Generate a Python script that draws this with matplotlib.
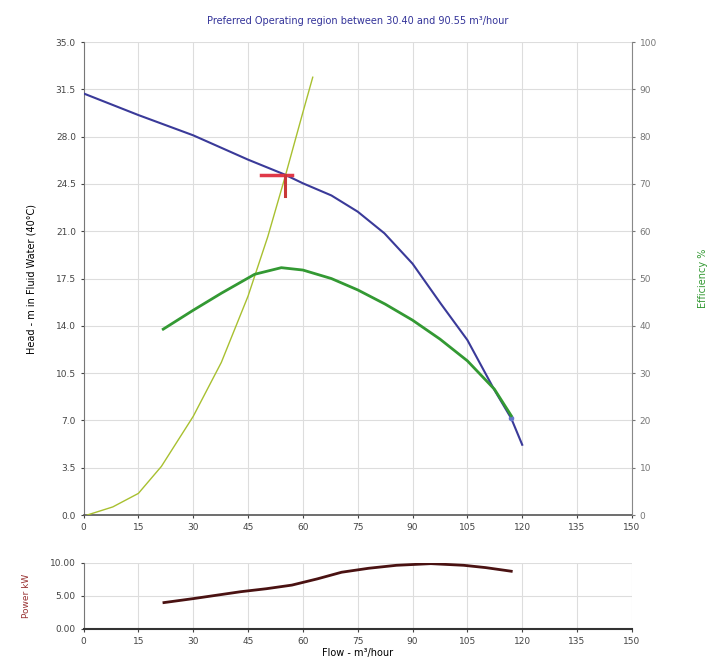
import numpy as np
import matplotlib.pyplot as plt

# pump curve data
head_flow = [0, 15, 30, 45, 55, 60, 67.8, 75, 82.3, 90, 97.7, 105, 112.4, 117, 120]
head_m = [31.2, 29.6, 28.1, 26.3, 25.2, 24.55, 23.65, 22.45, 20.85, 18.6, 15.65,
          12.95, 9.25, 7.15, 5.2]

eff_flow = [21.8, 30, 37.7, 46.8, 54.1, 60, 67.8, 75, 82.5, 90, 97.5, 105, 112.4, 117]
eff_pct = [39.3, 43.3, 46.9, 50.9, 52.3, 51.8, 50.0, 47.6, 44.6, 41.2, 37.2, 32.6, 26.6, 21.0]

sys_flow = [1, 8, 15, 21.3, 30, 37.7, 45, 50.4, 55, 60, 62.7]
sys_head = [0.0, 0.6, 1.6, 3.6, 7.3, 11.3, 16.2, 20.6, 24.9, 29.8, 32.4]

power_flow = [22, 30, 43, 50, 57, 64, 70.6, 78, 85.6, 95, 104, 110, 117]
power_kw = [4.0, 4.6, 5.65, 6.1, 6.65, 7.6, 8.6, 9.2, 9.65, 9.9, 9.65, 9.3, 8.75]

op_flow, op_head = 55.2, 25.2

x_ticks = np.arange(0, 151, 15)
head_ticks = np.arange(0, 35.01, 3.5)
eff_ticks = np.arange(0, 101, 10)

plt.rcParams['font.family'] = ['DejaVu Sans']
fig = plt.figure(figsize=(7.14, 6.68), dpi=100)

ax = fig.add_axes([0.117, 0.229, 0.768, 0.708])
ax.plot(sys_flow, sys_head, color='#a8c030', lw=1.0, zorder=3)
ax.plot(head_flow, head_m, color='#3a3a99', lw=1.5, zorder=4)
ax.plot(head_flow[-2:-1], head_m[-2:-1], 'o', color='#6677cc', ms=3, zorder=5)
ax.plot([op_flow - 6.6, op_flow + 1.8], [op_head, op_head], color='#e03848', lw=2.5, zorder=6)
ax.plot([op_flow, op_flow], [op_head, op_head - 1.6], color='#c83838', lw=2.2, zorder=6)
ax.set_xlim(0, 150)
ax.set_ylim(0, 35)
ax.set_xticks(x_ticks)
ax.set_yticks(head_ticks)
ax.set_yticklabels([f'{v:.1f}' for v in head_ticks])
ax.grid(True, color='#dddddd', lw=0.8)
ax.set_ylabel('Head - m in Fluid Water (40°C)', fontsize=7, labelpad=14)
ax.set_title('Preferred Operating region between 30.40 and 90.55 m³/hour',
             fontsize=7, color='#333399', pad=13)
ax.tick_params(labelsize=6.5, length=2, colors='#444444')
ax.spines['top'].set_visible(False)
ax.spines['right'].set_visible(False)
ax.spines['left'].set_color('#777777')
ax.spines['bottom'].set_linewidth(1.2)
ax.spines['bottom'].set_color('#555555')

ax2 = ax.twinx()
ax2.plot(eff_flow, eff_pct, color='#339933', lw=2.0, zorder=4)
ax2.set_ylim(0, 100)
ax2.set_yticks(eff_ticks)
ax2.set_ylabel('Efficiency %', fontsize=7, color='#339933', labelpad=30)
ax2.tick_params(labelsize=6.5, length=2, colors='#777777')
ax2.spines['top'].set_visible(False)
ax2.spines['left'].set_visible(False)
ax2.spines['bottom'].set_visible(False)
ax2.spines['right'].set_color('#888888')

bx = fig.add_axes([0.117, 0.0584, 0.768, 0.0988])
bx.plot(power_flow, power_kw, color='#4a1212', lw=2.0)
bx.set_xlim(0, 150)
bx.set_ylim(0, 10)
bx.set_xticks(x_ticks)
bx.set_yticks([0, 5, 10])
bx.set_yticklabels(['0.00', '5.00', '10.00'])
bx.grid(True, color='#dddddd', lw=0.8)
bx.set_ylabel('Power kW', fontsize=6.5, color='#993333', labelpad=14)
bx.set_xlabel('Flow - m³/hour', fontsize=7, labelpad=2)
bx.tick_params(labelsize=6.5, length=2, colors='#444444')
bx.spines['top'].set_visible(False)
bx.spines['right'].set_visible(False)
bx.spines['left'].set_color('#777777')
bx.spines['bottom'].set_linewidth(1.5)
bx.spines['bottom'].set_color('#333333')

fig.savefig('out.png', dpi=100)
